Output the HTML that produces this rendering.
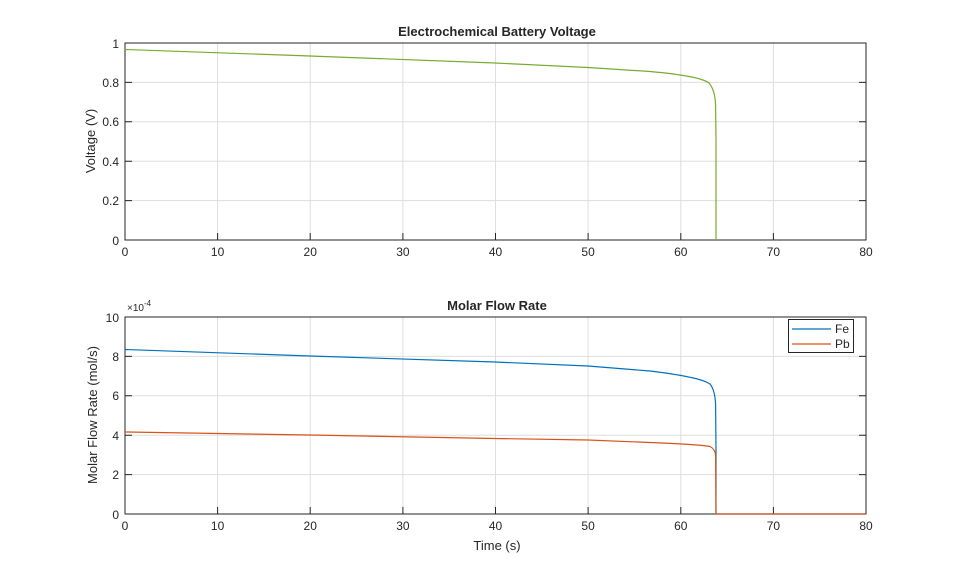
<!DOCTYPE html>
<html><head><style>body{margin:0;background:#fff}svg{display:block}text{font-family:"Liberation Sans",sans-serif;fill:#262626}</style></head><body>
<svg width="959" height="577" viewBox="0 0 959 577">
<rect width="959" height="577" fill="#fff"/>
<g stroke="#dedede" stroke-width="1">
<path d="M217.6 43V240M310.2 43V240M402.9 43V240M495.5 43V240M588.1 43V240M680.8 43V240M773.4 43V240M125 82.4H866M125 121.8H866M125 161.2H866M125 200.6H866"/>
<path d="M217.6 317V514M310.2 317V514M402.9 317V514M495.5 317V514M588.1 317V514M680.8 317V514M773.4 317V514M125 356.4H866M125 395.8H866M125 435.2H866M125 474.6H866"/>
</g>
<g fill="none" stroke="#262626" stroke-width="1">
<rect x="125" y="43" width="741" height="197"/>
<rect x="125" y="317" width="741" height="197"/>
<path d="M217.6 240v-7M310.2 240v-7M402.9 240v-7M495.5 240v-7M588.1 240v-7M680.8 240v-7M773.4 240v-7M125 82.4h7M125 121.8h7M125 161.2h7M125 200.6h7M866 82.4h-7M866 121.8h-7M866 161.2h-7M866 200.6h-7"/>
<path d="M217.6 514v-7M310.2 514v-7M402.9 514v-7M495.5 514v-7M588.1 514v-7M680.8 514v-7M773.4 514v-7M125 356.4h7M125 395.8h7M125 435.2h7M125 474.6h7M866 356.4h-7M866 395.8h-7M866 435.2h-7M866 474.6h-7"/>
</g>
<path d="M125 49.5L310 56L495 63L588 67.5L650 71.5Q700 76 709 83Q715 90 715.6 105L716 140L716 240" fill="none" stroke="#77AC30" stroke-width="1.2"/>
<path d="M125 349.5L310 356L495 362L588 366L650 371Q700 377 710 384Q715 390 715.6 405L716 449L716 514H866" fill="none" stroke="#0072BD" stroke-width="1.2"/>
<path d="M125 432L310 435L495 438.5L588 440L650 442.5Q700 444.5 710 446.5Q715 449 715.6 455L716 514H866" fill="none" stroke="#D95319" stroke-width="1.2"/>
<g font-size="12" text-anchor="middle">
<text x="125" y="256">0</text><text x="217.6" y="256">10</text><text x="310.2" y="256">20</text><text x="402.9" y="256">30</text><text x="495.5" y="256">40</text><text x="588.1" y="256">50</text><text x="680.8" y="256">60</text><text x="773.4" y="256">70</text><text x="866" y="256">80</text>
<text x="125" y="530">0</text><text x="217.6" y="530">10</text><text x="310.2" y="530">20</text><text x="402.9" y="530">30</text><text x="495.5" y="530">40</text><text x="588.1" y="530">50</text><text x="680.8" y="530">60</text><text x="773.4" y="530">70</text><text x="866" y="530">80</text>
</g>
<g font-size="12" text-anchor="end">
<text x="119" y="48">1</text><text x="119" y="87">0.8</text><text x="119" y="126">0.6</text><text x="119" y="166">0.4</text><text x="119" y="205">0.2</text><text x="119" y="245">0</text>
<text x="119" y="322">10</text><text x="119" y="361">8</text><text x="119" y="400">6</text><text x="119" y="440">4</text><text x="119" y="479">2</text><text x="119" y="519">0</text>
</g>
<text x="127" y="311" font-size="10">×10<tspan font-size="8" dy="-5">-4</tspan></text>
<text x="497" y="36" font-size="13" font-weight="bold" text-anchor="middle">Electrochemical Battery Voltage</text>
<text x="497" y="310" font-size="13" font-weight="bold" text-anchor="middle">Molar Flow Rate</text>
<text x="497" y="550" font-size="13" text-anchor="middle">Time (s)</text>
<text transform="translate(95 141) rotate(-90)" font-size="13" text-anchor="middle">Voltage (V)</text>
<text transform="translate(97 415) rotate(-90)" font-size="13" text-anchor="middle">Molar Flow Rate (mol/s)</text>
<rect x="788.5" y="319.5" width="65" height="33" fill="#fff" stroke="#262626"/>
<path d="M792 329h39" stroke="#0072BD" stroke-width="1.3"/>
<path d="M792 344h39" stroke="#D95319" stroke-width="1.3"/>
<text x="835" y="333" font-size="12">Fe</text>
<text x="835" y="348" font-size="12">Pb</text>
</svg>
</body></html>
